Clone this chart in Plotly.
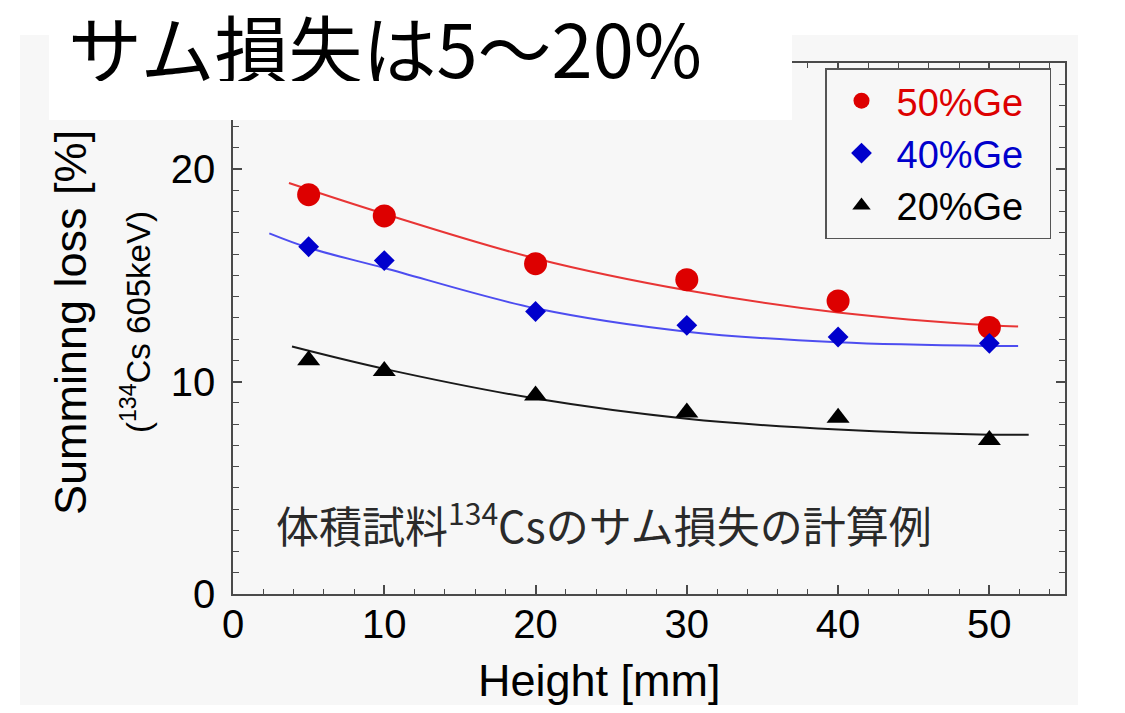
import plotly.graph_objects as go

# ---- data ----
heights = [5, 10, 20, 30, 40, 50]
loss_50 = [18.8, 17.8, 15.55, 14.8, 13.8, 12.55]
loss_40 = [16.35, 15.7, 13.3, 12.65, 12.1, 11.8]
loss_20 = [11.0, 10.5, 9.35, 8.55, 8.3, 7.25]

fit50_x = [3.7, 10, 20, 30, 40, 50, 51.9]
fit50_y = [19.35, 17.9, 15.8, 14.3, 13.25, 12.65, 12.6]
fit40_x = [2.4, 5, 10, 20, 30, 40, 50, 51.9]
fit40_y = [16.98, 16.3, 15.35, 13.45, 12.35, 11.85, 11.68, 11.68]
fit20_x = [3.9, 10, 20, 30, 40, 50, 52.6]
fit20_y = [11.65, 10.6, 9.2, 8.25, 7.74, 7.5, 7.5]

series_names = ["50%Ge", "40%Ge", "20%Ge"]
x_ticks = [0, 10, 20, 30, 40, 50]
y_ticks = [0, 10, 20]

RED_M, BLUE_M, BLACK_M = "#dd0000", "#0000cc", "#000000"
RED_L, BLUE_L, BLACK_L = "#e83535", "#4d4df0", "#1a1a1a"
BG = "#f7f7f7"
AX = "#4a4a4a"
LAT = "Liberation Sans, Arial, sans-serif"
JP = "Noto Sans CJK JP, sans-serif"

OFF = 8  # browser body margin
W, H = 1125 - OFF, 713 - OFF
L, R, T, B = 233, 1065, 63, 594   # plot area in page pixels


def px(x):
    return (x - L) / (R - L)


def py(y):
    return (B - y) / (B - T)


fig = go.Figure()

for fx, fy, col in [(fit50_x, fit50_y, RED_L), (fit40_x, fit40_y, BLUE_L), (fit20_x, fit20_y, BLACK_L)]:
    fig.add_trace(go.Scatter(x=fx, y=fy, mode="lines", line=dict(color=col, width=2, shape="spline", smoothing=1.0),
                             showlegend=False, hoverinfo="skip"))

for ys, name, col, sym, sz in [(loss_50, series_names[0], RED_M, "circle", 23),
                               (loss_40, series_names[1], BLUE_M, "diamond", 16),
                               (loss_20, series_names[2], BLACK_M, "triangle-up", 20)]:
    fig.add_trace(go.Scatter(x=heights, y=ys, mode="markers",
                             marker=dict(color=col, symbol=sym, size=sz, line=dict(width=0)),
                             name='<span style="color:%s">%s</span>\u00a0\u00a0' % (col, name)))

shapes = [
    dict(type="rect", xref="paper", yref="paper", x0=px(20), x1=px(1078), y0=py(705), y1=py(35),
         fillcolor=BG, line=dict(width=0), layer="below"),
    dict(type="rect", xref="paper", yref="paper", x0=px(49), x1=px(792), y0=py(120), y1=py(0),
         fillcolor="white", line=dict(width=0), layer="above"),
]

annotations = [
    dict(text="サム損失は5〜20%", xref="paper", yref="paper", x=px(66), y=py(45), xanchor="left", yanchor="middle",
         height=72, valign="middle",
         showarrow=False, font=dict(family=JP, size=74, color="#000")),
    dict(text="Height [mm]", xref="paper", yref="paper", x=px(599), y=py(680), xanchor="center", yanchor="middle",
         showarrow=False, font=dict(family=LAT, size=45, color="#000")),
    dict(text="Summinng loss [%]", xref="paper", yref="paper", x=px(70), y=py(323), xanchor="center",
         yanchor="middle", textangle=-90, showarrow=False, font=dict(family=LAT, size=45, color="#000")),
    dict(text="(<sup>134</sup>Cs 605keV)", xref="paper", yref="paper", x=px(136), y=py(322), xanchor="center",
         yanchor="middle", textangle=-90, showarrow=False, font=dict(family=LAT, size=33, color="#000")),
    dict(text="体積試料<sup>134</sup>Csのサム損失の計算例", xref="paper", yref="paper", x=px(274), y=py(522),
         xanchor="left", yanchor="middle", showarrow=False, font=dict(family=JP, size=43, color="#2a2a2a")),
]

axis_common = dict(showgrid=False, zeroline=False, showline=True, linecolor=AX, linewidth=1.5, mirror="ticks",
                   ticks="inside", ticklen=9, tickwidth=1.5, tickcolor=AX,
                   tickfont=dict(family=LAT, size=40, color="#000"))

fig.update_layout(
    width=W, height=H,
    margin=dict(l=L - OFF, r=1125 - R, t=T - OFF, b=713 - B, pad=0),
    paper_bgcolor="white", plot_bgcolor=BG,
    xaxis=dict(range=[0, 55], tickvals=x_ticks, ticklabelstandoff=-6,
               minor=dict(dtick=2, tick0=0, ticks="inside", ticklen=5, tickwidth=1, tickcolor=AX), **axis_common),
    yaxis=dict(range=[0, 25], tickvals=y_ticks, ticklabelstandoff=8,
               minor=dict(dtick=1, tick0=0, ticks="inside", ticklen=6, tickwidth=1, tickcolor=AX), **axis_common),
    legend=dict(x=px(1051), y=py(68), xanchor="right", yanchor="top", bgcolor=BG, bordercolor="#555",
                borderwidth=1.5, font=dict(family=LAT, size=38, color="#000"), itemwidth=60,
                tracegroupgap=0),
    shapes=shapes, annotations=annotations, showlegend=True,
)

fig.write_html("out.html")
